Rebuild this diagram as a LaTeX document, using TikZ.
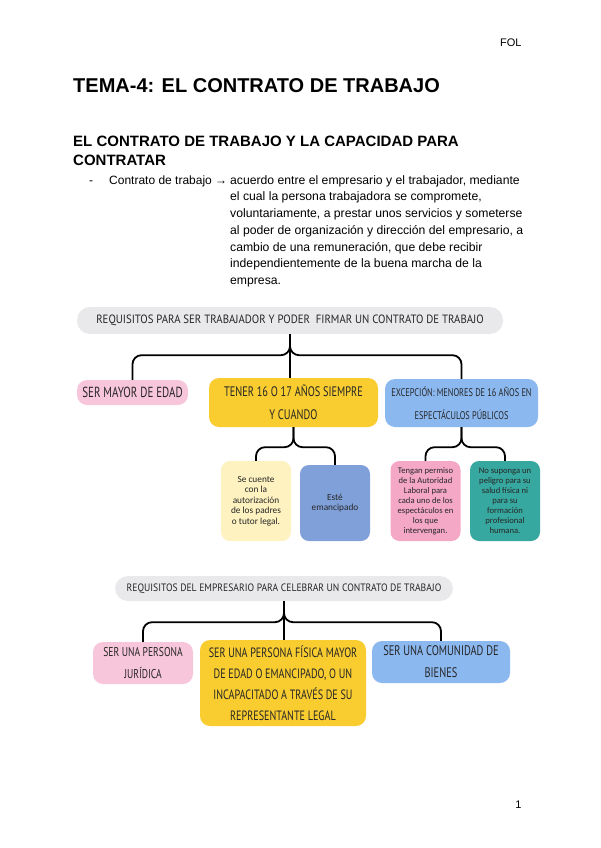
\documentclass[tikz,border=0pt]{standalone}
\usepackage{fontspec}
\setmainfont{Liberation Sans}
\newfontfamily\handfont[FakeStretch=0.75]{PT Sans}
\newfontfamily\headfont[FakeStretch=0.9]{PT Sans}
\newfontfamily\notefont{Carlito}

\definecolor{boxgray}{RGB}{233,233,235}
\definecolor{softpink}{RGB}{248,198,218}
\definecolor{gold}{RGB}{249,205,48}
\definecolor{skyblue}{RGB}{140,184,240}
\definecolor{cream}{RGB}{253,242,192}
\definecolor{slateblue}{RGB}{128,160,218}
\definecolor{rosepink}{RGB}{245,168,198}
\definecolor{tealbox}{RGB}{55,168,160}

\tikzset{
  card/.style={rounded corners=10pt, inner sep=2pt, align=center, text=black!85,
    font=\handfont\fontsize{13.8}{23}\selectfont},
  headcard/.style={card, fill=boxgray, rounded corners=13pt},
  note/.style={rounded corners=9pt, inner sep=1pt, align=center, text=black!85,
    minimum width=70pt, minimum height=80pt, font=\notefont\fontsize{9.3}{10.6}\selectfont},
  brace/.style={line width=1.8pt, rounded corners=9pt},
}

\begin{document}
\begin{tikzpicture}[x=1pt,y=-1pt]
  \useasboundingbox (0,0) rectangle (600,848);
  % page header and titles
  \node[anchor=base east, font=\fontsize{11}{13}\selectfont] (fol) at (525,47) {FOL};
  \node[anchor=base west, inner sep=0, font=\bfseries\fontsize{20}{24}\selectfont] (tema) at (73,93) {TEMA-4: EL CONTRATO DE TRABAJO};
  \node[anchor=north west, inner sep=0, align=left, font=\bfseries\fontsize{15}{19}\selectfont] (sub) at (73,136)
    {EL CONTRATO DE TRABAJO Y LA CAPACIDAD PARA\\CONTRATAR};
  \node[anchor=base west, inner sep=0, font=\fontsize{12}{13}\selectfont] (dash) at (89,184) {-};
  \node[anchor=base west, inner sep=0, font=\fontsize{12}{13}\selectfont] (term) at (109,184) {Contrato de trabajo →};
  \node[anchor=north west, inner sep=0, align=left, font=\fontsize{12.2}{16.7}\selectfont] (def) at (230,175.2)
    {acuerdo entre el empresario y el trabajador, mediante\\
     el cual la persona trabajadora se compromete,\\
     voluntariamente, a prestar unos servicios y someterse\\
     al poder de organización y dirección del empresario, a\\
     cambio de una remuneración, que debe recibir\\
     independientemente de la buena marcha de la\\
     empresa.};

  % first map: requisitos del trabajador
  \node[headcard, minimum width=426pt, minimum height=27pt, font=\headfont\fontsize{12}{14}\selectfont] (req) at (290,320.5)
    {REQUISITOS PARA SER TRABAJADOR Y PODER\ \ FIRMAR UN CONTRATO DE TRABAJO};
  \node[card, fill=softpink, minimum width=111pt, minimum height=25pt, font=\handfont\fontsize{14.6}{23}\selectfont] (mayor) at (132.5,392.5) {SER MAYOR DE EDAD};
  \node[card, fill=gold, minimum width=169pt, minimum height=49pt] (tener) at (293.5,402.5)
    {TENER 16 O 17 AÑOS SIEMPRE\\Y CUANDO};
  \node[card, fill=skyblue, minimum width=153pt, minimum height=48pt, font=\handfont\fontsize{11.1}{23}\selectfont] (excep) at (461.5,403)
    {EXCEPCIÓN: MENORES DE 16 AÑOS EN\\ESPECTÁCULOS PÚBLICOS};
  \draw[brace] (req.south) -- ++(0,21) -| (mayor.north);
  \draw[brace] (req.south) -- ++(0,21) -| (excep.north);
  \draw[brace] (req.south) -- (req.south |- tener.north);

  \node[note, fill=cream] (cuente) at (256,501) {Se cuente\\con la\\autorización\\de los padres\\o tutor legal.};
  \node[note, fill=slateblue, minimum height=76pt] (emanc) at (335,503) {Esté\\emancipado};
  \node[note, fill=rosepink, font=\notefont\fontsize{8.6}{10}\selectfont] (permiso) at (425.5,501)
    {Tengan permiso\\de la Autoridad\\Laboral para\\cada uno de los\\espectáculos en\\los que\\intervengan.};
  \node[note, fill=tealbox, font=\notefont\fontsize{8.6}{10}\selectfont] (peligro) at (505,501)
    {No suponga un\\peligro para su\\salud física ni\\para su\\formación\\profesional\\humana.};
  \draw[brace] (tener.south) -- ++(0,20) -| (cuente.north);
  \draw[brace] (tener.south) -- ++(0,20) -| (emanc.north);
  \draw[brace] (excep.south) -- ++(0,20) -| (permiso.north);
  \draw[brace] (excep.south) -- ++(0,20) -| (peligro.north);

  % second map: requisitos del empresario
  \node[headcard, minimum width=338pt, minimum height=25pt, font=\headfont\fontsize{10.7}{14}\selectfont] (req2) at (284,588.5)
    {REQUISITOS DEL EMPRESARIO PARA CELEBRAR UN CONTRATO DE TRABAJO};
  \node[card, fill=softpink, minimum width=100pt, minimum height=42pt, font=\handfont\fontsize{12.8}{22}\selectfont] (juridica) at (143,663)
    {SER UNA PERSONA\\JURÍDICA};
  \node[card, fill=gold, minimum width=166pt, minimum height=86pt, font=\handfont\fontsize{13.5}{21}\selectfont] (fisica) at (283,683)
    {SER UNA PERSONA FÍSICA MAYOR\\DE EDAD O EMANCIPADO, O UN\\INCAPACITADO A TRAVÉS DE SU\\REPRESENTANTE LEGAL};
  \node[card, fill=skyblue, minimum width=138pt, minimum height=42pt, font=\handfont\fontsize{13.9}{22}\selectfont] (bienes) at (441,662)
    {SER UNA COMUNIDAD DE\\BIENES};
  \draw[brace] (req2.south) -- ++(0,21) -| (juridica.north);
  \draw[brace] (req2.south) -- ++(0,21) -| (bienes.north);
  \draw[brace] (req2.south) -- (req2.south |- fisica.north);

  \node[anchor=base east, font=\fontsize{11}{13}\selectfont] (pagina) at (525,808) {1};
\end{tikzpicture}
\end{document}
